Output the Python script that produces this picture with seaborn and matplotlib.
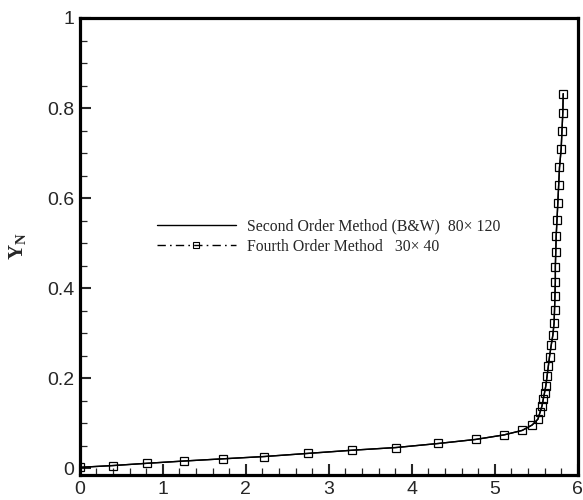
import matplotlib
matplotlib.use("Agg")
import matplotlib.pyplot as plt
import seaborn as sns
import pandas as pd
from matplotlib.ticker import MultipleLocator
from matplotlib.lines import Line2D

# Fourth order method (30x40) — marker points
x_fourth = [0.0, 0.40, 0.81, 1.25, 1.73, 2.22, 2.75, 3.28, 3.81, 4.32, 4.77, 5.11,
            5.33, 5.45, 5.52, 5.545, 5.57, 5.585, 5.60, 5.615, 5.63, 5.645, 5.66,
            5.68, 5.70, 5.715, 5.72, 5.725, 5.73, 5.73, 5.735, 5.74, 5.75, 5.76,
            5.77, 5.78, 5.80, 5.81, 5.82, 5.825]
y_fourth = [0.002, 0.006, 0.011, 0.016, 0.021, 0.026, 0.033, 0.040, 0.046, 0.055,
            0.064, 0.074, 0.084, 0.096, 0.109, 0.124, 0.139, 0.154, 0.168, 0.183,
            0.204, 0.226, 0.248, 0.273, 0.296, 0.323, 0.351, 0.382, 0.414, 0.448,
            0.481, 0.516, 0.552, 0.590, 0.629, 0.668, 0.709, 0.750, 0.790, 0.832]

# Second order method (B&W, 80x120) — solid reference line
x_second = [0.0, 0.40, 0.81, 1.25, 1.73, 2.22, 2.75, 3.28, 3.81, 4.32, 4.77, 5.11,
            5.33, 5.45, 5.52, 5.545, 5.57, 5.585, 5.60, 5.615, 5.63, 5.645, 5.66,
            5.68, 5.70, 5.715, 5.72, 5.725, 5.73, 5.73, 5.735, 5.74, 5.75, 5.76,
            5.77, 5.78, 5.80, 5.81, 5.82, 5.825]
y_second = [0.002, 0.006, 0.011, 0.016, 0.021, 0.026, 0.033, 0.040, 0.046, 0.055,
            0.064, 0.074, 0.084, 0.096, 0.109, 0.124, 0.139, 0.154, 0.168, 0.183,
            0.204, 0.226, 0.248, 0.273, 0.296, 0.323, 0.351, 0.382, 0.414, 0.448,
            0.481, 0.516, 0.552, 0.590, 0.629, 0.668, 0.709, 0.750, 0.790, 0.832]

label_second = "Second Order Method (B&W)  80\u00d7 120"
label_fourth = "Fourth Order Method   30\u00d7 40"

sns.set_style("ticks")
plt.rcParams['font.family'] = ['Liberation Sans', 'DejaVu Sans']
plt.rcParams['mathtext.fontset'] = 'custom'
plt.rcParams['mathtext.rm'] = 'Liberation Serif'
plt.rcParams['mathtext.bf'] = 'Liberation Serif:bold'

fig = plt.figure(figsize=(5.83, 5.0), dpi=100)
ax = fig.add_axes([0.137, 0.05, 0.854, 0.914])

df2 = pd.DataFrame({"x": x_second, "y": y_second})
df4 = pd.DataFrame({"x": x_fourth, "y": y_fourth})

sns.lineplot(data=df2, x="x", y="y", sort=False, estimator=None, ax=ax,
             color="black", linewidth=1.0)
sns.lineplot(data=df4, x="x", y="y", sort=False, estimator=None, ax=ax,
             color="black", linewidth=1.0, marker="s", markersize=5.5,
             markerfacecolor="none", markeredgecolor="black", markeredgewidth=0.9,
             dashes=False)

ax.set_xlim(0, 6)
ax.set_ylim(-0.015, 1)
ax.xaxis.set_major_locator(MultipleLocator(1))
ax.xaxis.set_minor_locator(MultipleLocator(0.2))
ax.yaxis.set_major_locator(MultipleLocator(0.2))
ax.yaxis.set_minor_locator(MultipleLocator(0.05))
ax.set_xticks([0, 1, 2, 3, 4, 5, 6])
ax.set_xticklabels(["0", "1", "2", "3", "4", "5", "6"])
ax.set_yticks([0, 0.2, 0.4, 0.6, 0.8, 1.0])
ax.set_yticklabels(["0", "0.2", "0.4", "0.6", "0.8", "1"])

ax.tick_params(which="major", direction="in", length=8, width=1.5, labelsize=14,
               pad=4, top=False, right=False)
ax.tick_params(which="minor", direction="in", length=5, width=0.9,
               top=False, right=False)
for s in ax.spines.values():
    s.set_visible(True)
    s.set_linewidth(2.3)
    s.set_color("black")

ax.set_xlabel("")
ax.set_ylabel(r"$\mathbf{Y_N}$", fontsize=15, labelpad=14)

h1 = Line2D([], [], color="black", linewidth=1.0)
h2 = Line2D([], [], color="black", linewidth=1.0, dashes=(6, 3, 1.2, 3),
            marker="s", markersize=4, markerfacecolor="none",
            markeredgecolor="black", markeredgewidth=0.8)
leg = ax.legend([h1, h2], [label_second, label_fourth], loc="center left",
                bbox_to_anchor=(0.155, 0.522), frameon=False, handlelength=5.0,
                handletextpad=0.7, labelspacing=0.3, borderaxespad=0, borderpad=0,
                prop={"family": "Liberation Serif", "size": 11.3}, numpoints=1)

fig.savefig("out.png", dpi=100)
